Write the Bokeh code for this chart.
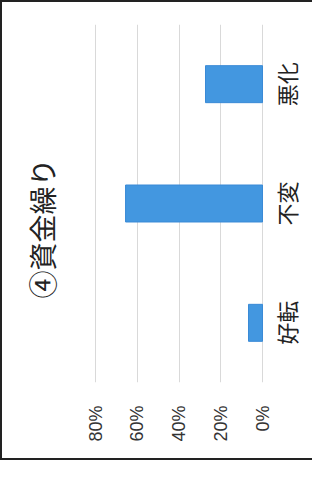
import math
from bokeh.plotting import figure
from bokeh.models import Range1d, FactorRange, FixedTicker, ColumnDataSource
from bokeh.core.properties import value
from bokeh.embed import file_html
from bokeh.resources import INLINE

# ---- data ----
categories = ["好転", "不変", "悪化"]
shares = [0.067, 0.656, 0.273]
tick_values = [0, 0.2, 0.4, 0.6, 0.8]
tick_labels = ["0%", "20%", "40%", "60%", "80%"]
title_text = "④資金繰り"

src = ColumnDataSource(dict(cat=categories, share=shares,
                            base=[0] * len(categories)))

W, H = 312, 460
PX_PER_UNIT = 167 / 0.8          # 80 % spans 167 px
LEFT_PAD, RIGHT_PAD = 91, 50     # room for title / category names inside frame
p = figure(width=W, height=H, output_backend="svg", toolbar_location=None,
           y_range=FactorRange(factors=categories),
           x_range=Range1d(tick_values[-1] + LEFT_PAD / PX_PER_UNIT,
                           tick_values[0] - RIGHT_PAD / PX_PER_UNIT),
           x_axis_location="below", y_axis_location=None)
p.min_border_left = 2
p.min_border_right = 2
p.min_border_top = 22
p.min_border_bottom = 80
p.outline_line_color = None
p.background_fill_color = "white"
p.border_fill_color = "white"

p.hbar(y="cat", left="base", right="share", height=0.31, source=src,
       fill_color="#4397e0", line_color="#3a8ad6", line_width=1)

# category names, centred on each factor, just right of the 0 % line
p.text(x="base", y="cat", text="cat", source=src, x_offset=23,
       angle=math.pi / 2, text_align="center", text_baseline="middle",
       text_font=value("Noto Sans CJK JP"), text_font_size="22px",
       text_color="#222222")

# chart title, rotated like the rest of the scanned chart
p.text(x=[tick_values[-1]], y=[categories[1]], text=[title_text],
       x_offset=-54, y_offset=25, angle=math.pi / 2,
       text_align="center", text_baseline="middle",
       text_font=value("Noto Sans CJK JP"), text_font_size="28px",
       text_color="#222222")

# value axis (below)
xa = p.xaxis[0]
xa.ticker = FixedTicker(ticks=tick_values)
xa.major_label_overrides = {v: t for v, t in zip(tick_values, tick_labels)}
xa.major_label_orientation = math.pi / 2
xa.axis_line_color = None
xa.major_tick_line_color = None
xa.minor_tick_line_color = None
xa.major_tick_out = 0
xa.major_label_standoff = 23
xa.major_label_text_font = "Liberation Sans"
xa.major_label_text_font_size = "18px"
xa.major_label_text_color = "#333333"

p.xgrid.grid_line_color = "#d9d9d9"
p.xgrid.ticker = FixedTicker(ticks=tick_values)
p.ygrid.visible = False

p.styles = {"border-left": "2px solid #222222",
            "border-top": "2px solid #222222",
            "border-bottom": "2px solid #222222"}

open("out.html", "w").write(file_html(p, INLINE))
